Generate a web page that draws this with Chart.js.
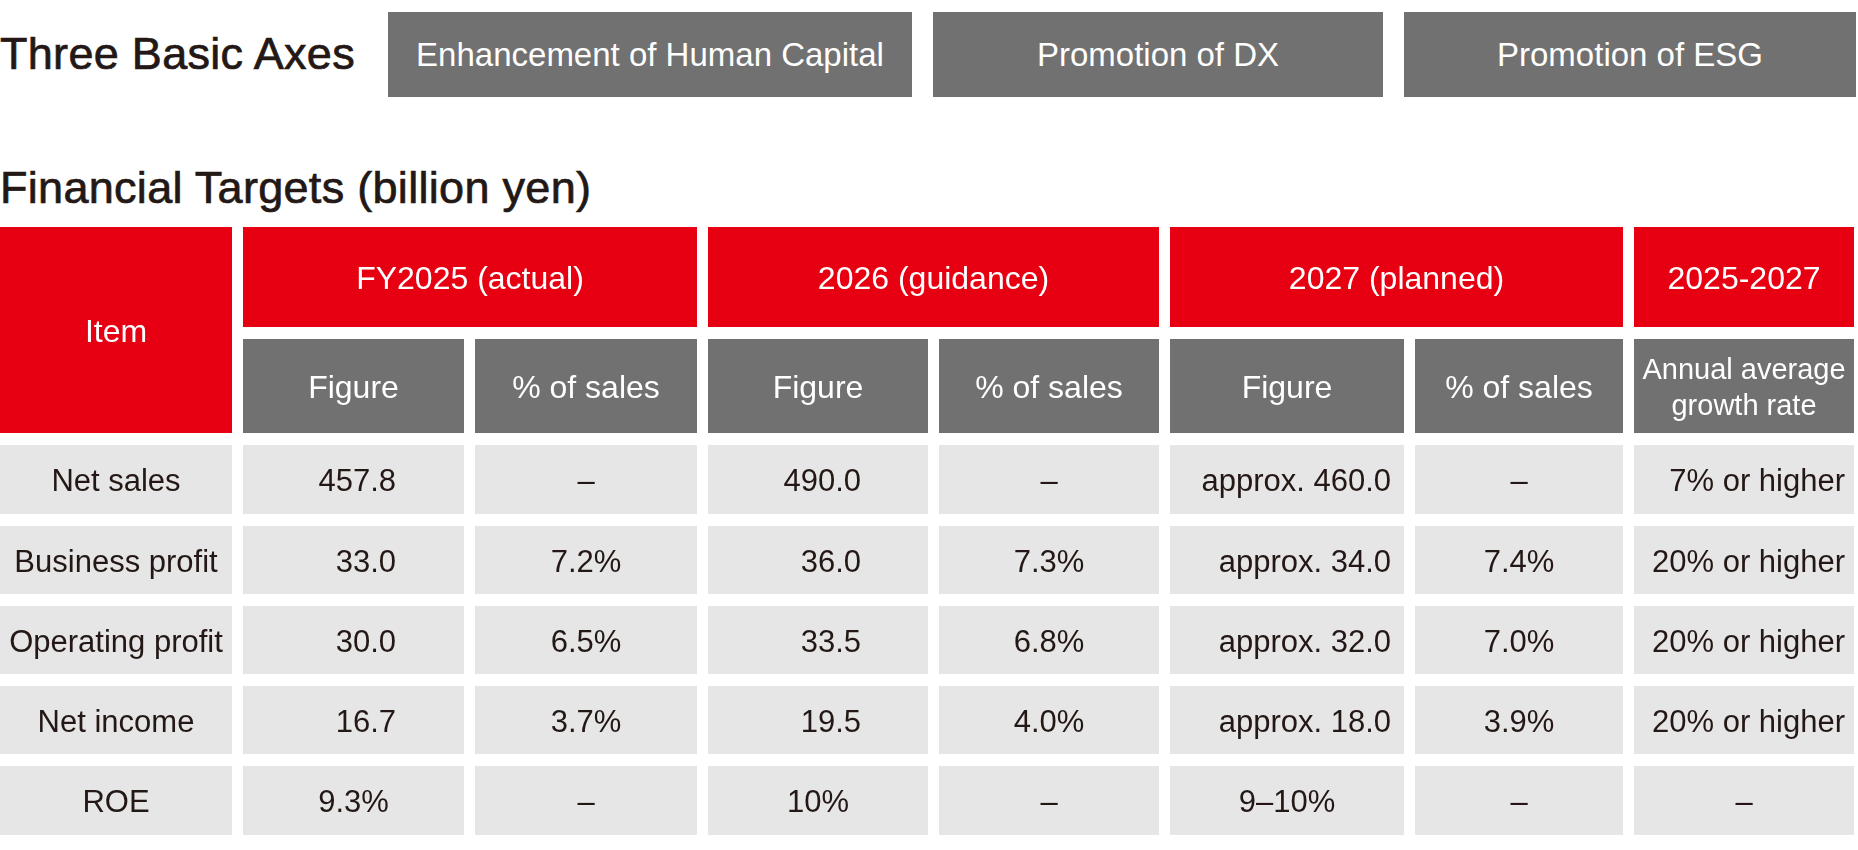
<!DOCTYPE html>
<html>
<head>
<meta charset="utf-8">
<title>Financial Targets</title>
<script src="https://cdn.jsdelivr.net/npm/chart.js@4.4.1/dist/chart.umd.min.js"></script>
<style>
  body { margin: 0; background: #fff; font-family: "Liberation Sans", Arial, sans-serif; color: #231815; }
  #page { position: relative; width: 1858px; height: 850px; overflow: hidden; }
  .title { position: absolute; left: 0; font-size: 45px; line-height: 45px; white-space: nowrap;
           -webkit-text-stroke: 0.7px #231815; letter-spacing: 0.3px; }
  .axis { position: absolute; top: 12px; height: 85px; line-height: 85px; background: #727171;
          color: #fff; text-align: center; font-size: 33px; white-space: nowrap; }
  #table { position: absolute; left: 0; top: 0; }
</style>
</head>
<body>
<div id="page">
  <div class="title" style="top:31px">Three Basic Axes</div>
  <div id="axes"></div>
  <div class="title" style="top:165px">Financial Targets (billion yen)</div>
  <canvas id="table" width="1858" height="850"></canvas>
</div>

<script>
// --- table content ---
const basicAxes = ['Enhancement of Human Capital', 'Promotion of DX', 'Promotion of ESG'];
const itemHeader = 'Item';
const periods = ['FY2025 (actual)', '2026 (guidance)', '2027 (planned)', '2025-2027'];
const subHeaders = ['Figure', '% of sales', 'Figure', '% of sales', 'Figure', '% of sales', 'Annual average\ngrowth rate'];

const items = ['Net sales', 'Business profit', 'Operating profit', 'Net income', 'ROE'];
const fy2025Figure = ['457.8', '33.0', '30.0', '16.7', '9.3%'];
const fy2025Pct = ['–', '7.2%', '6.5%', '3.7%', '–'];
const fy2026Figure = ['490.0', '36.0', '33.5', '19.5', '10%'];
const fy2026Pct = ['–', '7.3%', '6.8%', '4.0%', '–'];
const fy2027Figure = ['approx. 460.0', 'approx. 34.0', 'approx. 32.0', 'approx. 18.0', '9–10%'];
const fy2027Pct = ['–', '7.4%', '7.0%', '3.9%', '–'];
const growthRate = ['7% or higher', '20% or higher', '20% or higher', '20% or higher', '–'];

// --- layout (scale units) ---
const colUnits = [243, 232, 233, 231, 231, 245, 219, 231];   // column pitch incl. gap
const rowUnits = [112, 106, 81, 80, 80, 80, 81];              // row pitch incl. gap
const GAP_X = 11, GAP_Y = 12;
const bodyAlign = ['center', 'right', 'center', 'right', 'center', 'right', 'center', 'right'];
const rightPad = [0, 68, 0, 67, 0, 13, 0, 9];

const RED = '#E60012', GRAY = '#727171', LIGHT = '#E6E6E6', INK = '#231815';
const FONT = '"Liberation Sans", Arial, sans-serif';

// top boxes (plain DOM)
const axesBoxes = [[388, 524], [933, 450], [1404, 452]];
basicAxes.forEach((t, i) => {
  const d = document.createElement('div');
  d.className = 'axis';
  d.style.left = axesBoxes[i][0] + 'px';
  d.style.width = axesBoxes[i][1] + 'px';
  d.textContent = t;
  document.getElementById('axes').appendChild(d);
});

const cumul = arr => arr.reduce((a, v) => { a.push(a[a.length - 1] + v); return a; }, [0]);
const colEdge = cumul(colUnits);
const rowEdge = cumul(rowUnits);

const bodyCols = [items, fy2025Figure, fy2025Pct, fy2026Figure, fy2026Pct, fy2027Figure, fy2027Pct, growthRate];

const tablePlugin = {
  id: 'tablePlugin',
  afterDraw(chart) {
    const ctx = chart.ctx;
    const xs = chart.scales.x, ys = chart.scales.y;

    const box = (c0, c1, r0, r1) => {
      const x0 = xs.getPixelForValue(colEdge[c0]);
      const x1 = xs.getPixelForValue(colEdge[c1] - GAP_X);
      const y0 = ys.getPixelForValue(rowEdge[r0]);
      const y1 = ys.getPixelForValue(rowEdge[r1] - GAP_Y);
      return { x0, x1, y0, y1 };
    };

    const cell = (c0, c1, r0, r1, fill, text, color, size, align, pad) => {
      const b = box(c0, c1, r0, r1);
      ctx.fillStyle = fill;
      ctx.fillRect(b.x0, b.y0, b.x1 - b.x0, b.y1 - b.y0);
      if (!text) return;
      ctx.fillStyle = color;
      ctx.font = size + 'px ' + FONT;
      ctx.textBaseline = 'alphabetic';
      const lines = text.split('\n');
      const lh = size * 1.24;
      const cy = (b.y0 + b.y1) / 2;
      let tx = (b.x0 + b.x1) / 2;
      ctx.textAlign = 'center';
      if (align === 'right') { tx = b.x1 - pad; ctx.textAlign = 'right'; }
      lines.forEach((ln, i) => {
        const off = (i - (lines.length - 1) / 2) * lh;
        ctx.fillText(ln, tx, cy + off + size * 0.358 + 0.5);
      });
    };

    ctx.save();
    // header
    cell(0, 1, 0, 2, RED, itemHeader, '#fff', 32, 'center', 0);
    periods.forEach((p, i) => {
      const c0 = 1 + i * 2, c1 = Math.min(c0 + 2, 8);
      cell(c0, c1, 0, 1, RED, p, '#fff', 32, 'center', 0);
    });
    subHeaders.forEach((s, i) => {
      cell(1 + i, 2 + i, 1, 2, GRAY, s, '#fff', s.includes('\n') ? 29 : 32, 'center', 0);
    });
    // body
    items.forEach((_, r) => {
      const lastRow = r === items.length - 1;
      bodyCols.forEach((col, c) => {
        const txt = col[r];
        const align = (lastRow || txt === '–') ? 'center' : bodyAlign[c];
        cell(c, c + 1, r + 2, r + 3, LIGHT, txt, INK, 31, align, rightPad[c]);
      });
    });
    ctx.restore();
  }
};

new Chart(document.getElementById('table'), {
  type: 'scatter',
  data: { datasets: [{ data: [] }] },
  options: {
    responsive: false,
    animation: false,
    devicePixelRatio: 1,
    layout: { padding: { left: 0, right: 4, top: 227, bottom: 15 } },
    plugins: { legend: { display: false }, tooltip: { enabled: false } },
    scales: {
      x: { type: 'linear', min: 0, max: colEdge[colEdge.length - 1] - GAP_X, display: false },
      y: { type: 'linear', min: 0, max: rowEdge[rowEdge.length - 1] - GAP_Y, reverse: true, display: false }
    }
  },
  plugins: [tablePlugin]
});
</script>
</body>
</html>
